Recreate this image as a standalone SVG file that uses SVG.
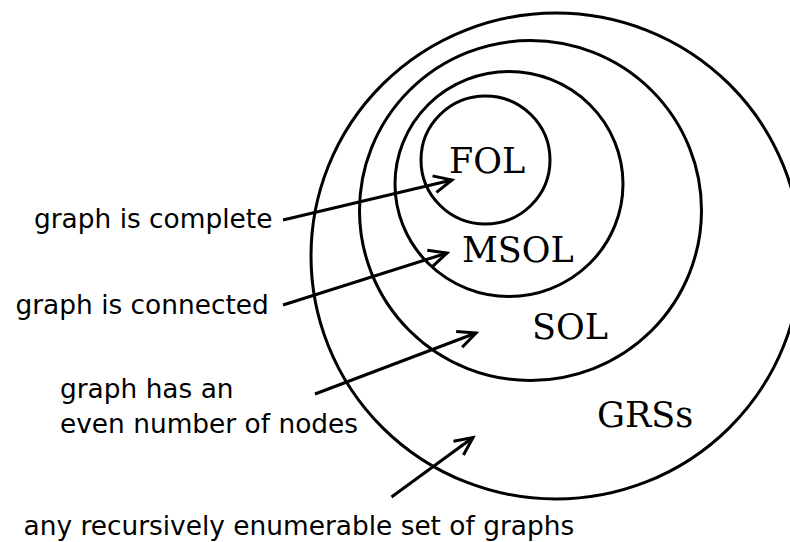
<svg xmlns="http://www.w3.org/2000/svg" width="790" height="542" viewBox="0 0 790 542">
<style>
.set{fill:none;stroke:#000;stroke-width:3}
.lbl{font-family:"DejaVu Serif","Liberation Serif",serif;font-size:35px;fill:#000}
.txt{font-family:"DejaVu Sans","Liberation Sans",sans-serif;font-size:26.4px;fill:#000}
.arr{fill:none;stroke:#000;stroke-width:3;marker-end:url(#ah)}
</style>
<defs>
<marker id="ah" markerUnits="userSpaceOnUse" orient="auto" markerWidth="30" markerHeight="30" refX="0" refY="0" viewBox="-20 -15 30 30" overflow="visible">
<path d="M-18,-8.5 L0,0 L-18,8.5" fill="none" stroke="#000" stroke-width="3"/>
</marker>
</defs>
<rect width="790" height="542" fill="#fff"/>
<g id="GRSs">
<ellipse class="set" cx="556" cy="256" rx="245" ry="243"/>
<text class="lbl" x="597" y="426.5">GRSs</text>
</g>
<g id="SOL">
<ellipse class="set" cx="530.5" cy="210.5" rx="171" ry="170"/>
<text class="lbl" x="532" y="339">SOL</text>
</g>
<g id="MSOL">
<ellipse class="set" cx="509" cy="184" rx="114" ry="112.5"/>
<text class="lbl" x="462" y="262">MSOL</text>
</g>
<g id="FOL">
<ellipse class="set" cx="485.5" cy="160" rx="64.5" ry="64"/>
<text class="lbl" x="449" y="173.3">FOL</text>
</g>
<g id="labels">
<text class="txt" x="34" y="227.5">graph is complete</text>
<text class="txt" x="15.5" y="314">graph is connected</text>
<text class="txt" x="60" y="397.7">graph has an</text>
<text class="txt" x="60" y="432.7">even number of nodes</text>
<text class="txt" x="23.5" y="535">any recursively enumerable set of graphs</text>
</g>
<g id="connectors">
<line class="arr" x1="283" y1="220" x2="452" y2="180"/>
<line class="arr" x1="283" y1="305" x2="447" y2="253"/>
<line class="arr" x1="315" y1="394" x2="476" y2="333"/>
<line class="arr" x1="391.5" y1="497" x2="473" y2="437.5"/>
</g>
</svg>
